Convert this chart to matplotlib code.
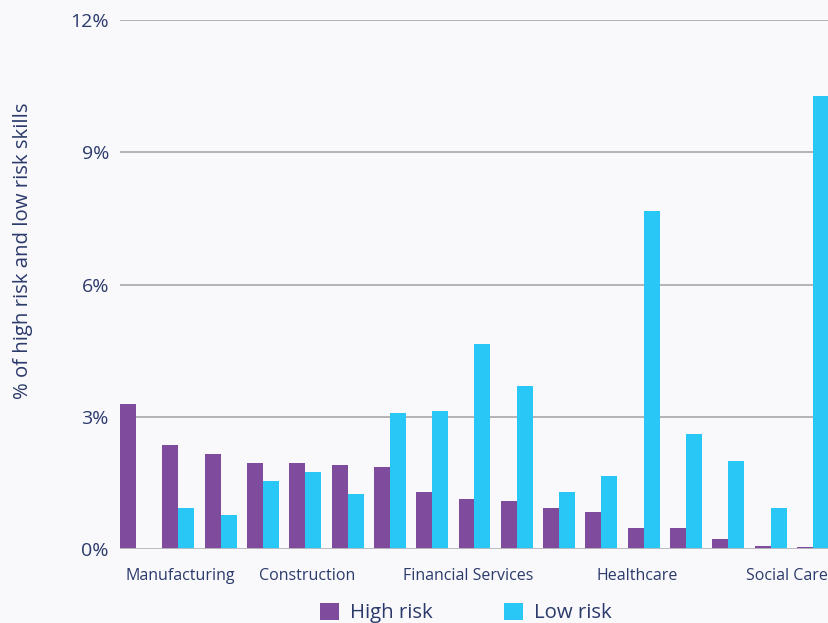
import numpy as np
import matplotlib.pyplot as plt
from matplotlib.ticker import FuncFormatter

plt.rcParams['font.family'] = ['Open Sans', 'DejaVu Sans']

# share of skills per occupation group (%)
high_risk = [3.29, 2.36, 2.16, 1.95, 1.95, 1.91, 1.86, 1.29, 1.13, 1.09,
             0.93, 0.84, 0.48, 0.48, 0.23, 0.07, 0.05]
low_risk = [0.0, 0.93, 0.77, 1.54, 1.75, 1.25, 3.09, 3.13, 4.65, 3.70,
            1.29, 1.66, 7.67, 2.61, 2.00, 0.93, 10.28]

sectors = ['Manufacturing', 'Construction', 'Financial Services',
           'Healthcare', 'Social Care']
sector_pos = [1.04, 4.04, 7.84, 11.85, 15.39]

y_ticks = [0, 3, 6, 9, 12]

purple = '#7f4c9d'
cyan = '#29c7f5'
navy = '#2b3a6b'
bg = '#f9f9fc'

fig = plt.figure(figsize=(8.29, 6.23), dpi=100, facecolor=bg)
ax = fig.add_axes([120 / 829, 74 / 623, 709 / 829, 529 / 623], facecolor=bg)

x = np.arange(len(high_risk))
w = 0.378
ax.bar(x - w / 2, high_risk, w, color=purple, label='High risk', zorder=3)
ax.bar(x + w / 2, low_risk, w, color=cyan, label='Low risk', zorder=3)

ax.set_xlim(-w, len(x) - 1 + w)
ax.set_ylim(0, 12)

# gridlines
ax.set_yticks(y_ticks)
ax.yaxis.set_major_formatter(FuncFormatter(lambda v, p: f'{v:.0f}%'))
ax.grid(axis='y', color='#b4b4b8', linewidth=1.4, zorder=0)
ax.tick_params(axis='y', length=0, pad=8, labelsize=14, labelcolor=navy)

ax.set_xticks(sector_pos)
ax.set_xticklabels(sectors)
ax.tick_params(axis='x', length=0, pad=14, labelsize=11.5, labelcolor=navy)

for s in ax.spines.values():
    s.set_visible(False)
ax.axhline(0, color='#bdbdc2', linewidth=2, zorder=4)

fig.text(23 / 829, 1 - 251 / 623, '% of high risk and low risk skills',
         rotation=90, ha='center', va='center', fontsize=14.7, color=navy)

leg = fig.legend(loc='center', bbox_to_anchor=(0.562, 0.016), ncol=2,
                 frameon=False, fontsize=14.7, handlelength=0.93,
                 handleheight=0.93, columnspacing=3.5, handletextpad=0.55)
for t in leg.get_texts():
    t.set_color(navy)

plt.savefig('out.png', dpi=100, facecolor=bg)
